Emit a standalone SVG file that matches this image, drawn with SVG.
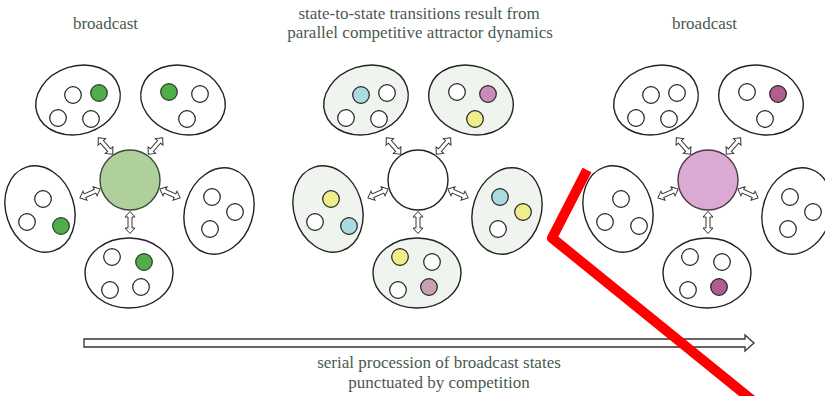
<svg xmlns="http://www.w3.org/2000/svg" xmlns:xlink="http://www.w3.org/1999/xlink" width="825" height="396" viewBox="0 0 825 396">
<defs>
<style>
.lbl{font-family:"Liberation Serif","Times New Roman",serif;font-size:17px;fill:#4a5a4e;text-anchor:middle}
.ell{fill:#ffffff;stroke:#222;stroke-width:1.4}
.ellm{fill:#f0f4ee;stroke:#222;stroke-width:1.4}
.c{fill:#ffffff;stroke:#222;stroke-width:1.2}
.g{fill:#4fae4a;stroke:#2a3a28;stroke-width:1.2}
.cy{fill:#a9dbe0;stroke:#222;stroke-width:1.2}
.ye{fill:#f0ee8a;stroke:#222;stroke-width:1.2}
.mg{fill:#c98cb8;stroke:#222;stroke-width:1.2}
.mg2{fill:#c9a0b2;stroke:#222;stroke-width:1.2}
.mgd{fill:#b05d8f;stroke:#222;stroke-width:1.2}
.arr{fill:#ffffff;stroke:#333;stroke-width:1}
</style>
<path id="dbl" d="M-11,0 L-5.5,-5 L-5.5,-2 L5.5,-2 L5.5,-5 L11,0 L5.5,5 L5.5,2 L-5.5,2 L-5.5,5 Z"/>
</defs>
<rect width="825" height="396" fill="#ffffff"/>

<text class="lbl" x="105.5" y="29">broadcast</text>
<text class="lbl" x="419" y="19">state-to-state transitions result from</text>
<text class="lbl" x="420" y="38">parallel competitive attractor dynamics</text>
<text class="lbl" x="704.5" y="29">broadcast</text>

<!-- Cluster 1 -->
<g id="cluster1" transform="translate(130,180)">
 <g id="c1-hub"><circle r="30" fill="#afd09a" stroke="#3b4a36" stroke-width="1.4"/></g>
 <g id="c1-tl"><ellipse class="ell" rx="43" ry="34" transform="translate(-52,-80) rotate(-18)"/>
  <circle class="c" cx="-57" cy="-85" r="8.3"/><circle class="g" cx="-31" cy="-87" r="8.3"/><circle class="c" cx="-72" cy="-62" r="8.3"/><circle class="c" cx="-39" cy="-61" r="8.3"/></g>
 <g id="c1-tr"><ellipse class="ell" rx="43" ry="34" transform="translate(53,-80) rotate(18)"/>
  <circle class="g" cx="39" cy="-88" r="8.3"/><circle class="c" cx="70" cy="-86" r="8.3"/><circle class="c" cx="57" cy="-61" r="8.3"/></g>
 <g id="c1-l"><ellipse class="ell" rx="34" ry="44" transform="translate(-90,29) rotate(-18)"/>
  <circle class="c" cx="-87" cy="19" r="8.3"/><circle class="c" cx="-103" cy="42" r="8.3"/><circle class="g" cx="-69" cy="46" r="8.3"/></g>
 <g id="c1-r"><ellipse class="ell" rx="34" ry="44" transform="translate(89,31) rotate(18)"/>
  <circle class="c" cx="82" cy="17" r="8.3"/><circle class="c" cx="105" cy="32" r="8.3"/><circle class="c" cx="80" cy="49" r="8.3"/></g>
 <g id="c1-b"><ellipse class="ell" rx="44" ry="35" cx="-1" cy="93"/>
  <circle class="c" cx="-18" cy="77" r="8.3"/><circle class="g" cx="14" cy="82" r="8.3"/><circle class="c" cx="-20" cy="110" r="8.3"/><circle class="c" cx="11" cy="107" r="8.3"/></g>
</g>

<!-- Cluster 2 -->
<g id="cluster2" transform="translate(418,180)">
 <g id="c2-hub"><circle r="30" fill="#ffffff" stroke="#222" stroke-width="1.4"/></g>
 <g id="c2-tl"><ellipse class="ellm" rx="43" ry="34" transform="translate(-52,-80) rotate(-18)"/>
  <circle class="cy" cx="-57" cy="-85" r="8.3"/><circle class="c" cx="-31" cy="-87" r="8.3"/><circle class="c" cx="-72" cy="-62" r="8.3"/><circle class="c" cx="-39" cy="-61" r="8.3"/></g>
 <g id="c2-tr"><ellipse class="ellm" rx="43" ry="34" transform="translate(53,-80) rotate(18)"/>
  <circle class="c" cx="39" cy="-88" r="8.3"/><circle class="mg" cx="70" cy="-86" r="8.3"/><circle class="ye" cx="57" cy="-61" r="8.3"/></g>
 <g id="c2-l"><ellipse class="ellm" rx="34" ry="44" transform="translate(-90,29) rotate(-18)"/>
  <circle class="ye" cx="-87" cy="19" r="8.3"/><circle class="c" cx="-103" cy="42" r="8.3"/><circle class="cy" cx="-69" cy="46" r="8.3"/></g>
 <g id="c2-r"><ellipse class="ellm" rx="34" ry="44" transform="translate(89,31) rotate(18)"/>
  <circle class="cy" cx="82" cy="17" r="8.3"/><circle class="ye" cx="105" cy="32" r="8.3"/><circle class="c" cx="80" cy="49" r="8.3"/></g>
 <g id="c2-b"><ellipse class="ellm" rx="44" ry="35" cx="-1" cy="93"/>
  <circle class="ye" cx="-18" cy="77" r="8.3"/><circle class="c" cx="14" cy="82" r="8.3"/><circle class="c" cx="-20" cy="110" r="8.3"/><circle class="mg2" cx="11" cy="107" r="8.3"/></g>
</g>

<!-- Cluster 3 -->
<g id="cluster3" transform="translate(708,180)">
 <g id="c3-hub"><circle r="30" fill="#dba9d3" stroke="#4a3a48" stroke-width="1.4"/></g>
 <g id="c3-tl"><ellipse class="ell" rx="43" ry="34" transform="translate(-52,-80) rotate(-18)"/>
  <circle class="c" cx="-57" cy="-85" r="8.3"/><circle class="c" cx="-31" cy="-87" r="8.3"/><circle class="c" cx="-72" cy="-62" r="8.3"/><circle class="c" cx="-39" cy="-61" r="8.3"/></g>
 <g id="c3-tr"><ellipse class="ell" rx="43" ry="34" transform="translate(53,-80) rotate(18)"/>
  <circle class="c" cx="39" cy="-88" r="8.3"/><circle class="mgd" cx="70" cy="-86" r="8.3"/><circle class="c" cx="57" cy="-61" r="8.3"/></g>
 <g id="c3-l"><ellipse class="ell" rx="34" ry="44" transform="translate(-90,29) rotate(-18)"/>
  <circle class="c" cx="-87" cy="19" r="8.3"/><circle class="c" cx="-103" cy="42" r="8.3"/><circle class="c" cx="-69" cy="46" r="8.3"/></g>
 <g id="c3-r"><ellipse class="ell" rx="34" ry="44" transform="translate(89,31) rotate(18)"/>
  <circle class="c" cx="82" cy="17" r="8.3"/><circle class="c" cx="105" cy="32" r="8.3"/><circle class="c" cx="80" cy="49" r="8.3"/></g>
 <g id="c3-b"><ellipse class="ell" rx="44" ry="35" cx="-1" cy="93"/>
  <circle class="c" cx="-18" cy="77" r="8.3"/><circle class="c" cx="14" cy="82" r="8.3"/><circle class="c" cx="-20" cy="110" r="8.3"/><circle class="mgd" cx="11" cy="107" r="8.3"/></g>
</g>

<!-- Connectors -->
<g id="connectors">
 <g transform="translate(130,180)">
  <use xlink:href="#dbl" class="arr" transform="translate(-24.5,-34) rotate(49)"/>
  <use xlink:href="#dbl" class="arr" transform="translate(25.5,-34) rotate(-49)"/>
  <use xlink:href="#dbl" class="arr" transform="translate(-40,13.5) rotate(-23.6)"/>
  <use xlink:href="#dbl" class="arr" transform="translate(40,13.5) rotate(23.6)"/>
  <use xlink:href="#dbl" class="arr" transform="translate(0,42.5) rotate(90)"/>
 </g>
 <g transform="translate(418,180)">
  <use xlink:href="#dbl" class="arr" transform="translate(-24.5,-34) rotate(49)"/>
  <use xlink:href="#dbl" class="arr" transform="translate(25.5,-34) rotate(-49)"/>
  <use xlink:href="#dbl" class="arr" transform="translate(-40,13.5) rotate(-23.6)"/>
  <use xlink:href="#dbl" class="arr" transform="translate(40,13.5) rotate(23.6)"/>
  <use xlink:href="#dbl" class="arr" transform="translate(0,42.5) rotate(90)"/>
 </g>
 <g transform="translate(708,180)">
  <use xlink:href="#dbl" class="arr" transform="translate(-24.5,-34) rotate(49)"/>
  <use xlink:href="#dbl" class="arr" transform="translate(25.5,-34) rotate(-49)"/>
  <use xlink:href="#dbl" class="arr" transform="translate(-40,13.5) rotate(-23.6)"/>
  <use xlink:href="#dbl" class="arr" transform="translate(40,13.5) rotate(23.6)"/>
  <use xlink:href="#dbl" class="arr" transform="translate(0,42.5) rotate(90)"/>
 </g>
 <path id="timeline" d="M84,339 L745,339 L745,335 L754,343 L745,351 L745,347 L84,347 Z" fill="#ffffff" stroke="#333" stroke-width="1.3" stroke-linejoin="miter"/>
</g>

<text class="lbl" x="439" y="368">serial procession of broadcast states</text>
<text class="lbl" x="439" y="388">punctuated by competition</text>

<path d="M587,170 L552,238 L752,400" fill="none" stroke="#ff0000" stroke-width="10" stroke-linejoin="round"/>
</svg>
